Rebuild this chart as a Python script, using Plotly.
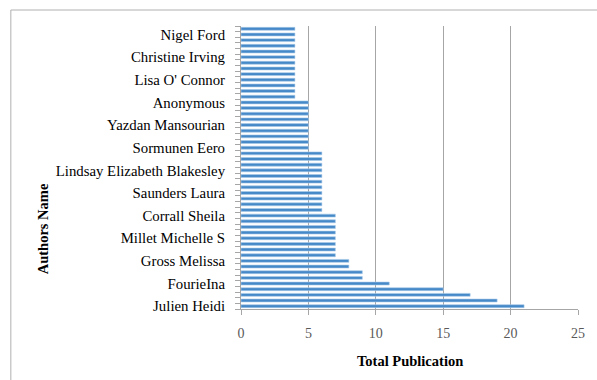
import plotly.graph_objects as go

# Publications per author, listed from the bottom bar upward
publications = [21, 19, 17, 15, 11, 9, 9, 8, 8,
                7, 7, 7, 7, 7, 7, 7, 7,
                6, 6, 6, 6, 6, 6, 6, 6, 6, 6, 6,
                5, 5, 5, 5, 5, 5, 5, 5, 5,
                4, 4, 4, 4, 4, 4, 4, 4, 4, 4, 4, 4, 4]

# Author names shown on the axis (every fourth row, from the bottom)
label_rows = [0, 4, 8, 12, 16, 20, 24, 28, 32, 36, 40, 44, 48]
label_names = ["Julien Heidi", "FourieIna", "Gross Melissa", "Millet Michelle S",
               "Corrall Sheila", "Saunders Laura", "Lindsay Elizabeth Blakesley",
               "Sormunen Eero", "Yazdan Mansourian", "Anonymous", "Lisa O' Connor",
               "Christine Irving", "Nigel Ford"]

x_ticks = [0, 5, 10, 15, 20, 25]

rows = list(range(len(publications)))
boundaries = [r - 0.5 for r in rows] + [len(rows) - 0.5]

SERIF = "Liberation Serif, Times New Roman, serif"
GRID = "#a6a6a6"

fig = go.Figure(go.Bar(
    x=publications,
    y=rows,
    orientation="h",
    marker=dict(color="#4689c8", line=dict(color="#a9cbea", width=0.6)),
    hoverinfo="x",
))

fig.update_layout(
    width=597, height=380,
    margin=dict(l=241, r=15, t=26, b=71),
    paper_bgcolor="white", plot_bgcolor="white",
    bargap=0.48,
    showlegend=False,
    font=dict(family=SERIF, size=14, color="#000000"),
    xaxis=dict(
        range=[0, 25], tickvals=x_ticks, ticktext=[str(v) for v in x_ticks],
        showgrid=True, gridcolor=GRID, gridwidth=1,
        showline=True, linecolor=GRID, linewidth=1,
        ticks="outside", ticklen=5, tickcolor=GRID,
        tickfont=dict(family=SERIF, size=14, color="#595959"),
        ticklabelstandoff=6,
        zeroline=False,
    ),
    yaxis=dict(
        range=[-0.5, len(rows) - 0.5],
        tickmode="array", tickvals=label_rows, ticktext=label_names,
        ticks="", showgrid=False, zeroline=False,
        showline=True, linecolor=GRID, linewidth=1,
        ticklabelstandoff=12,
        tickfont=dict(family=SERIF, size=14.8, color="#000000"),
        minor=dict(tickmode="array", tickvals=boundaries, ticks="outside",
                   ticklen=5, tickcolor=GRID, showgrid=False),
    ),
    annotations=[
        dict(text="<b>Total Publication</b>", xref="paper", yref="paper",
             x=0.5, y=-0.184, showarrow=False, xanchor="center", yanchor="middle",
             font=dict(family=SERIF, size=14.5, color="#000000")),
        dict(text="<b>Authors Name</b>", xref="paper", yref="paper",
             x=-0.5865, y=0.283, showarrow=False, textangle=-90,
             xanchor="center", yanchor="middle",
             font=dict(family=SERIF, size=14.5, color="#000000")),
    ],
    shapes=[
        # chart area border (only the top and left edges fall inside the page)
        dict(type="rect", xref="paper", yref="paper",
             x0=-0.683, x1=1.2, y0=-0.4, y1=1.0565,
             line=dict(color="#b0b0b0", width=1), layer="below"),
    ],
)

fig.write_html("out.html")
